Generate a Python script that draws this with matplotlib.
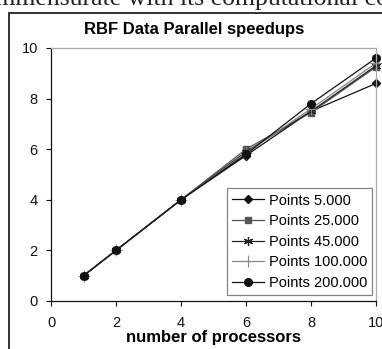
import matplotlib
matplotlib.use("Agg")
import matplotlib.pyplot as plt
from matplotlib.patches import Rectangle

plt.rcParams['font.family'] = ['Liberation Sans', 'DejaVu Sans']

processors = [1, 2, 4, 6, 8, 10]
series_names = ["Points 5.000", "Points 25.000", "Points 45.000", "Points 100.000", "Points 200.000"]
pts_5000 = [1, 2, 4, 5.75, 7.5, 8.6]
pts_25000 = [1, 2, 4, 6.0, 7.45, 9.25]
pts_45000 = [1, 2, 4, 5.9, 7.5, 9.3]
pts_100000 = [1, 2, 4, 5.85, 7.6, 9.4]
pts_200000 = [1, 2, 4, 5.8, 7.8, 9.6]
x_ticks = [0, 2, 4, 6, 8, 10]
y_ticks = [0, 2, 4, 6, 8, 10]

W, H = 382, 349
fig = plt.figure(figsize=(W / 100, H / 100), dpi=100)

# surrounding text line from the page (cut off)
fig.text(-0.075, 1 - 5.5 / H, "commensurate with its computational cost", fontsize=18.5,
         family=['Liberation Serif'], ha='left', va='baseline', color='#222222')

# outer frame
fig.add_artist(Rectangle((9 / W, -0.1), 1.2, 1 - 13 / H + 0.1, transform=fig.transFigure,
                         fill=False, edgecolor='#222222', linewidth=1.3))

ax = fig.add_axes([51 / W, 1 - 301 / H, (376 - 51) / W, (301 - 48) / H])

styles = [
    dict(marker='D', color='#111111', ms=4.5, mfc='#111111', lw=0.9),
    dict(marker='s', color='#555555', ms=5, mfc='#555555', lw=0.9),
    dict(marker=(6, 2, 0), color='#222222', ms=6.5, lw=0.9, mew=0.9),
    dict(marker='+', color='#888888', ms=8, lw=0.9, mew=0.8),
    dict(marker='o', color='#111111', ms=5.5, mfc='#111111', lw=0.9),
]
data = [pts_5000, pts_25000, pts_45000, pts_100000, pts_200000]
for name, vals, st in zip(series_names, data, styles):
    ax.plot(processors, vals, label=name, clip_on=False, **st)

ax.set_xlim(0, 10)
ax.set_ylim(0, 10)
ax.set_xticks(x_ticks)
ax.set_yticks(y_ticks)
ax.tick_params(direction='out', length=3.5, width=0.8, labelsize=10.5, colors='#111111')
ax.tick_params(axis='y', pad=6)
ax.tick_params(axis='x', pad=7)
for s in ['left', 'bottom']:
    ax.spines[s].set_color('#111111')
    ax.spines[s].set_linewidth(0.9)
for s in ['top', 'right']:
    ax.spines[s].set_color('#aaaaaa')
    ax.spines[s].set_linewidth(0.9)

ax.set_xlabel("number of processors", fontsize=12, fontweight='bold', labelpad=0)
ax.set_title("RBF Data Parallel speedups", fontsize=12, fontweight='bold', pad=10, x=0.44)

leg = ax.legend(loc='lower right', bbox_to_anchor=(0.988, 0.024), borderaxespad=0,
                fancybox=False, edgecolor='#666666', fontsize=10.5, handlelength=2.2,
                handletextpad=0.3, labelspacing=0.45, borderpad=0.35)
leg.get_frame().set_linewidth(0.9)

fig.savefig("out.png", dpi=100)
